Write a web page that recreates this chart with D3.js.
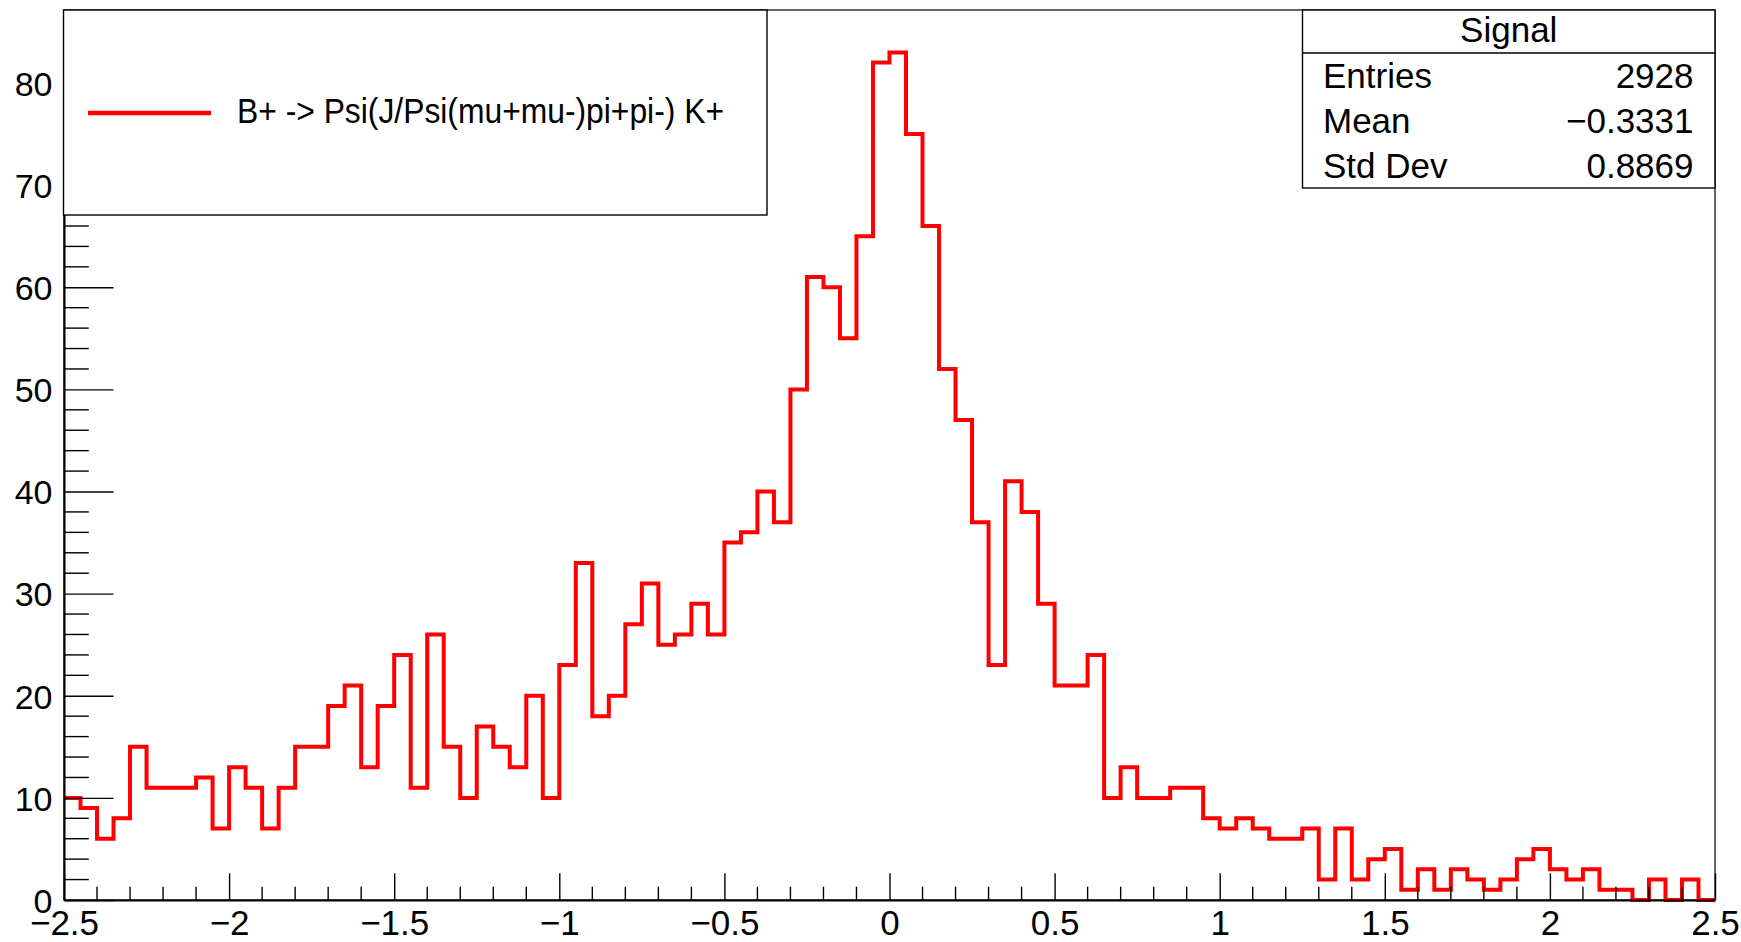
<!DOCTYPE html>
<html><head><meta charset="utf-8">
<script src="https://cdn.jsdelivr.net/npm/d3@7/dist/d3.min.js"></script>
<style>
body{margin:0;background:#fff}
svg{display:block}
text{font-family:"Liberation Sans",Arial,Helvetica,sans-serif;fill:#000}
</style>
</head><body>
<svg id="chart" width="1741" height="942"></svg>
<script>
// ---- data ----
const binLow = -2.5, binHigh = 2.5, nBins = 100;
const counts = [
  10,9,6,8,15,11,11,11,12,7,
  13,11,7,11,15,15,19,21,13,19,
  24,11,26,15,10,17,15,13,20,10,
  23,33,18,20,27,31,25,26,29,26,
  35,36,40,37,50,61,60,55,65,82,
  83,75,66,52,47,37,23,41,38,29,
  21,21,24,10,13,10,10,11,11,8,
  7,8,7,6,6,7,2,7,2,4,
  5,1,3,1,3,2,1,2,4,5,
  3,2,3,1,1,0,2,0,2,0
];
const yMax = 87.15;
const xTickValues = [-2.5,-2,-1.5,-1,-0.5,0,0.5,1,1.5,2,2.5];
const xTickLabels = ["\u22122.5","\u22122","\u22121.5","\u22121","\u22120.5","0","0.5","1","1.5","2","2.5"];
const xMinorStep = 0.1;
const yTickValues = [0,10,20,30,40,50,60,70,80];
const yTickLabels = ["0","10","20","30","40","50","60","70","80"];
const yMinorStep = 2;
const legendLabel = "B+ -> Psi(J/Psi(mu+mu-)pi+pi-) K+";
const statsTitle = "Signal";
const statsNames = ["Entries","Mean","Std Dev"];
const statsValues = ["2928","\u22120.3331","0.8869"];

// ---- layout ----
const W = 1741, H = 942;
const L = 64, R = 1715, T = 10, B = 900;
const svg = d3.select("#chart");
const x = d3.scaleLinear().domain([binLow, binHigh]).range([L, R]);
const y = d3.scaleLinear().domain([0, yMax]).range([B, T]);

svg.append("rect").attr("width", W).attr("height", H).attr("fill", "#fff");

// frame
svg.append("rect").attr("x", L).attr("y", T).attr("width", R - L).attr("height", B - T)
  .attr("fill", "none").attr("stroke", "#000").attr("stroke-width", 1.2);

// histogram
const bw = (binHigh - binLow) / nBins;
const pts = counts.map((c, i) => [binLow + i * bw, c]);
pts.push([binHigh, counts[counts.length - 1]]);
const line = d3.line().x(d => x(d[0])).y(d => y(d[1])).curve(d3.curveStepAfter);
svg.append("path").attr("d", line(pts)).attr("fill", "none")
  .attr("stroke", "#ff0000").attr("stroke-width", 4).attr("stroke-linejoin", "miter");

// x axis
const xMinor = d3.range(binLow, binHigh + 1e-9, xMinorStep).filter(v => !xTickValues.some(t => Math.abs(t - v) < 1e-6));
const xAxis = d3.axisBottom(x).tickValues(xTickValues).tickSizeInner(-26.7).tickSizeOuter(0)
  .tickFormat((d, i) => xTickLabels[i]).tickPadding(0);
const gx = svg.append("g").attr("transform", `translate(0,${B})`).call(xAxis);
gx.select(".domain").attr("stroke", "#000").attr("stroke-width", 2);
gx.selectAll(".tick line").attr("stroke", "#000").attr("stroke-width", 1.4);
gx.selectAll(".tick text").attr("font-size", 35).attr("y", 35).attr("dy", 0)
  .style("font-family", '"Liberation Sans",Arial,sans-serif');
gx.selectAll(".minor").data(xMinor).enter().append("line").attr("class", "minor")
  .attr("x1", d => x(d)).attr("x2", d => x(d)).attr("y1", 0).attr("y2", -13.3)
  .attr("stroke", "#000").attr("stroke-width", 1.4);

// y axis
const yMinor = d3.range(0, yMax, yMinorStep).filter(v => !yTickValues.includes(v));
const yAxis = d3.axisLeft(y).tickValues(yTickValues).tickSizeInner(-49.5).tickSizeOuter(0)
  .tickFormat((d, i) => yTickLabels[i]).tickPadding(0);
const gy = svg.append("g").attr("transform", `translate(${L},0)`).call(yAxis);
gy.select(".domain").attr("stroke", "#000").attr("stroke-width", 2);
gy.selectAll(".tick line").attr("stroke", "#000").attr("stroke-width", 1.4);
gy.selectAll(".tick text").attr("font-size", 34).attr("x", -11.5).attr("dy", "0.36em")
  .style("font-family", '"Liberation Sans",Arial,sans-serif');
gy.selectAll(".minor").data(yMinor).enter().append("line").attr("class", "minor")
  .attr("x1", 0).attr("x2", 24.8).attr("y1", d => y(d)).attr("y2", d => y(d))
  .attr("stroke", "#000").attr("stroke-width", 1.4);

// legend
const lg = svg.append("g");
lg.append("rect").attr("x", 63.5).attr("y", T).attr("width", 767 - 63.5).attr("height", 215 - T)
  .attr("fill", "#fff").attr("stroke", "#000").attr("stroke-width", 1.4);
lg.append("line").attr("x1", 88).attr("x2", 211).attr("y1", 113).attr("y2", 113)
  .attr("stroke", "#ff0000").attr("stroke-width", 4.5);
lg.append("text").attr("x", 237).attr("y", 123).attr("font-size", 35)
  .attr("textLength", 487).attr("lengthAdjust", "spacingAndGlyphs").text(legendLabel);

// stats box
const sx0 = 1302.5, sx1 = R, sy0 = T, sy1 = 188, sHead = 53;
const sg = svg.append("g");
sg.append("rect").attr("x", sx0).attr("y", sy0).attr("width", sx1 - sx0).attr("height", sy1 - sy0)
  .attr("fill", "#fff").attr("stroke", "#000").attr("stroke-width", 1.4);
sg.append("line").attr("x1", sx0).attr("x2", sx1).attr("y1", sHead).attr("y2", sHead)
  .attr("stroke", "#000").attr("stroke-width", 1.4);
sg.append("text").attr("x", (sx0 + sx1) / 2).attr("y", 42).attr("text-anchor", "middle")
  .attr("font-size", 35).text(statsTitle);
const rowH = (sy1 - sHead) / statsNames.length;
statsNames.forEach((n, i) => {
  const by = sHead + rowH * i + rowH / 2 + 12.5;
  sg.append("text").attr("x", 1323).attr("y", by).attr("font-size", 35).text(n);
  sg.append("text").attr("x", 1693.5).attr("y", by).attr("font-size", 35)
    .attr("text-anchor", "end").text(statsValues[i]);
});
</script>
</body></html>
